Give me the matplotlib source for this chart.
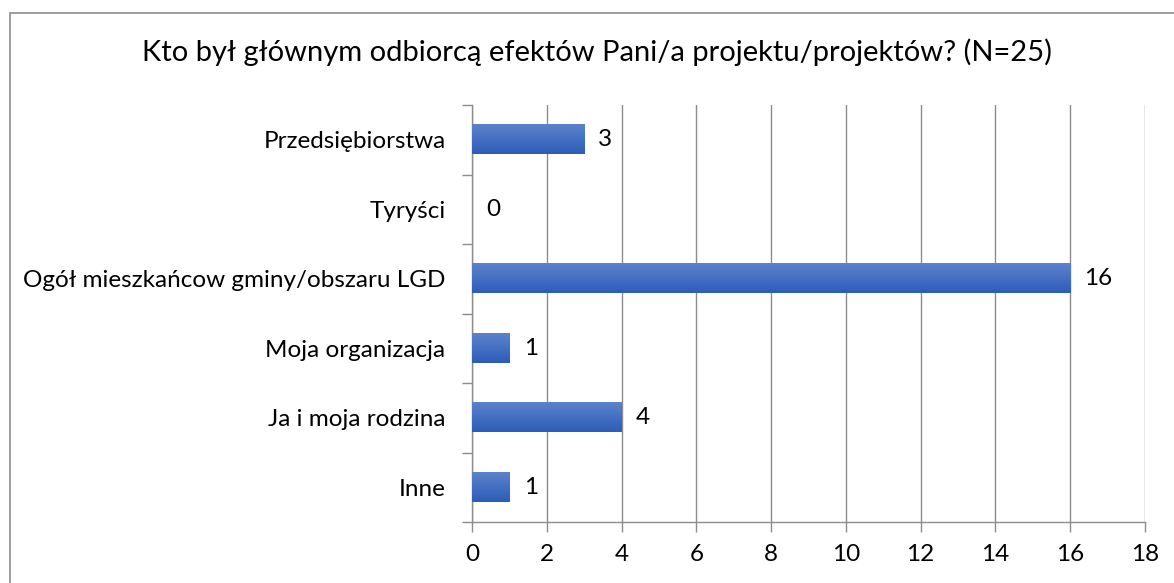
import matplotlib
matplotlib.use("Agg")
import matplotlib.pyplot as plt
import numpy as np
from matplotlib.patches import Rectangle
from matplotlib.colors import LinearSegmentedColormap

categories = ["Przedsiębiorstwa", "Tyryści", "Ogół mieszkańcow gminy/obszaru LGD",
              "Moja organizacja", "Ja i moja rodzina", "Inne"]
values = [3, 0, 16, 1, 4, 1]
xticks = [0, 2, 4, 6, 8, 10, 12, 14, 16, 18]
title = "Kto był głównym odbiorcą efektów Pani/a projektu/projektów? (N=25)"

plt.rcParams['font.family'] = ['Lato', 'DejaVu Sans']
W, H = 1174, 583
fig = plt.figure(figsize=(W/100, H/100), dpi=100)
ax = fig.add_axes([472/W, 1-522/H, (1145-472)/W, (522-105)/H])

FS = 17.5
n = len(categories)
ypos = np.arange(n)[::-1]  # first category at top
bh = 0.42
grad = np.linspace(0, 1, 64).reshape(-1, 1)
cmap = LinearSegmentedColormap.from_list("g", ["#2D5DB8", "#5C82CC"])
for y, v in zip(ypos, values):
    if v > 0:
        ax.imshow(grad, extent=(0, v, y-bh/2, y+bh/2), aspect='auto', cmap=cmap,
                  origin='lower', zorder=3, interpolation='bilinear')
    ax.text(v + 0.38, y, str(v), va='center', ha='left', fontsize=FS, color='black', zorder=4)

ax.set_xlim(0, 18)
ax.set_ylim(-0.5, n-0.5)
ax.set_xticks(xticks)
ax.set_xticklabels([str(t) for t in xticks], fontsize=FS)
ax.set_yticks(ypos)
ax.set_yticklabels(categories, fontsize=FS)
ax.set_yticks(np.arange(n+1)-0.5, minor=True)
ax.tick_params(axis='y', which='major', length=0, pad=19)
ax.tick_params(axis='y', which='minor', length=7, color='#8C8C8C', width=1)
ax.tick_params(axis='x', which='major', length=7, color='#8C8C8C', width=1, pad=9)
ax.grid(axis='x', color='#8C8C8C', linewidth=1, zorder=0)
ax.set_axisbelow(True)
for s in ['top', 'right']:
    ax.spines[s].set_visible(False)
for s in ['left', 'bottom']:
    ax.spines[s].set_color('#8C8C8C')
    ax.spines[s].set_linewidth(1)

fig.text(597/W, 1-52/H, title, ha='center', va='center', fontsize=21)

fig.patches.append(Rectangle((10/W, -0.1), 1.2, 1-13/H+0.1, transform=fig.transFigure,
                             fill=False, edgecolor='#8C8C8C', linewidth=1.2))

fig.savefig("out.png", dpi=100)
